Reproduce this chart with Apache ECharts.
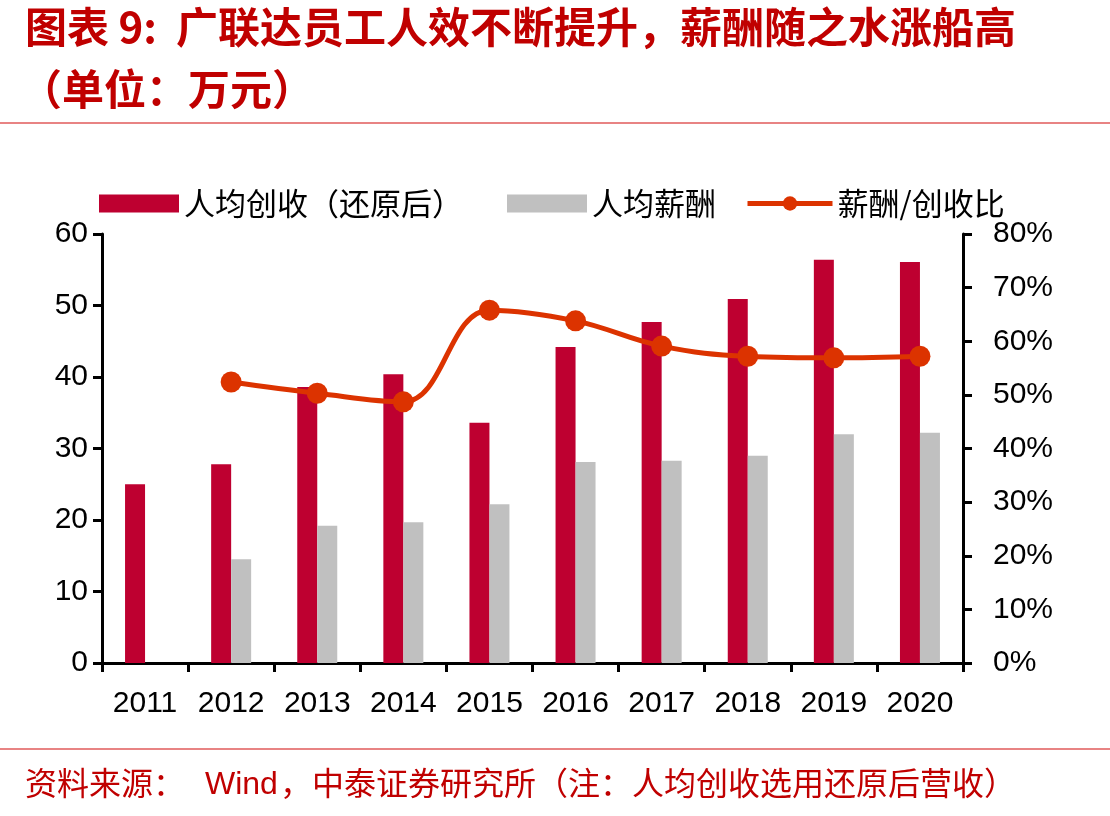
<!DOCTYPE html>
<html>
<head>
<meta charset="utf-8">
<script src="https://cdn.jsdelivr.net/npm/echarts@6/dist/echarts.min.js"></script>
<style>
html,body{margin:0;padding:0;background:#fff;}
#chart{width:1110px;height:816px;}
</style>
</head>
<body>
<div id="chart"></div>
<script>
// 数据
var years = ['2011','2012','2013','2014','2015','2016','2017','2018','2019','2020'];
var revenuePerCap = [25.0, 27.8, 38.6, 40.4, 33.6, 44.2, 47.7, 50.9, 56.4, 56.1];
var salaryPerCap = ['-', 14.5, 19.2, 19.7, 22.2, 28.1, 28.3, 29.0, 32.0, 32.2];
var salaryRatio = ['-', 52.4, 50.3, 48.7, 65.8, 63.8, 59.1, 57.2, 56.9, 57.2];
var leftTicks = [0, 60, 10];
var rightTicks = [0, 80, 10];

var cn = '"Noto Sans CJK SC", sans-serif';
var num = '"Liberation Sans", Arial, sans-serif';
var red = '#C00000';
var lineColor = '#DC3300';

var chart = echarts.init(document.getElementById('chart'));

//图例分开放，方便对齐原图位置
function legendItem(name, left, w){
	var item = { name: name };
	if(name == '薪酬/创收比'){
		item.lineStyle = { width: 5, color: lineColor };
		item.itemStyle = { color: lineColor };
	}
	return {
		data: [item],
		left: left,
		top: 183,
		itemWidth: w,
		itemHeight: 18,
		itemGap: 0,
		icon: name == '薪酬/创收比' ? undefined : 'rect',
		textStyle: { fontFamily: cn, fontSize: 31, color: '#000' },
		selectedMode: false
	};
}

var option = {
	animation: false,
	backgroundColor: '#fff',
	graphic: [
		{ type:'text', left: 25, top: 6, style:{ text:'图表 9:  广联达员工人效不断提升，薪酬随之水涨船高', fill: red, font:'bold 42px ' + cn } },
		{ type:'text', left: 20, top: 68, style:{ text:'（单位：万元）', fill: red, font:'bold 42px ' + cn } },
		{ type:'line', shape:{ x1:0, y1:123, x2:1110, y2:123 }, style:{ stroke:'#E05A5A', lineWidth:1.5 } },
		{ type:'line', shape:{ x1:0, y1:749, x2:1110, y2:749 }, style:{ stroke:'#E05A5A', lineWidth:1.5 } },
		{ type:'text', left: 25, top: 767, style:{ text:'资料来源：', fill: red, font:'32px ' + cn } },
		{ type:'text', left: 205, top: 769, style:{ text:'Wind', fill: red, font:'32px ' + num } },
		{ type:'text', left: 280, top: 767, style:{ text:'，中泰证券研究所（注：人均创收选用还原后营收）', fill: red, font:'32px ' + cn } }
	],
	legend: [
		legendItem('人均创收（还原后）', 94, 80),
		legendItem('人均薪酬', 502, 80),
		legendItem('薪酬/创收比', 740, 85)
	],
	grid: { left: 102, right: 147, top: 234, bottom: 153 },
	xAxis: {
		type: 'category',
		data: years,
		axisLine: { lineStyle: { color: '#000', width: 3 } },
		axisTick: { show: true, interval: 0, length: 9, lineStyle: { color: '#000', width: 3 } },
		axisLabel: { interval: 0, color: '#000', fontFamily: num, fontSize: 30, margin: 26 }
	},
	yAxis: [{
		type: 'value',
		min: leftTicks[0], max: leftTicks[1], interval: leftTicks[2],
		axisLine: { show: true, lineStyle: { color: '#000', width: 3 } },
		axisTick: { show: true, length: 9, lineStyle: { color: '#000', width: 3 } },
		axisLabel: { color: '#000', fontFamily: num, fontSize: 30, margin: 14 },
		splitLine: { show: false }
	},{
		type: 'value',
		min: rightTicks[0], max: rightTicks[1], interval: rightTicks[2],
		axisLine: { show: true, lineStyle: { color: '#000', width: 3 } },
		axisTick: { show: true, length: 9, lineStyle: { color: '#000', width: 3 } },
		axisLabel: { color: '#000', fontFamily: num, fontSize: 30, margin: 30, formatter: '{value}%' },
		splitLine: { show: false }
	}],
	series: [{
		name: '人均创收（还原后）',
		type: 'bar',
		data: revenuePerCap,
		barWidth: 20,
		barGap: '0%',
		itemStyle: { color: '#BE0030' }
	},{
		name: '人均薪酬',
		type: 'bar',
		data: salaryPerCap,
		barWidth: 20,
		itemStyle: { color: '#C0C0C0' }
	},{
		name: '薪酬/创收比',
		type: 'line',
		yAxisIndex: 1,
		data: salaryRatio,
		smooth: 0.4,
		symbol: 'circle',
		symbolSize: 21,
		lineStyle: { color: lineColor, width: 5 },
		itemStyle: { color: lineColor }
	}]
};
chart.setOption(option);
</script>
</body>
</html>
